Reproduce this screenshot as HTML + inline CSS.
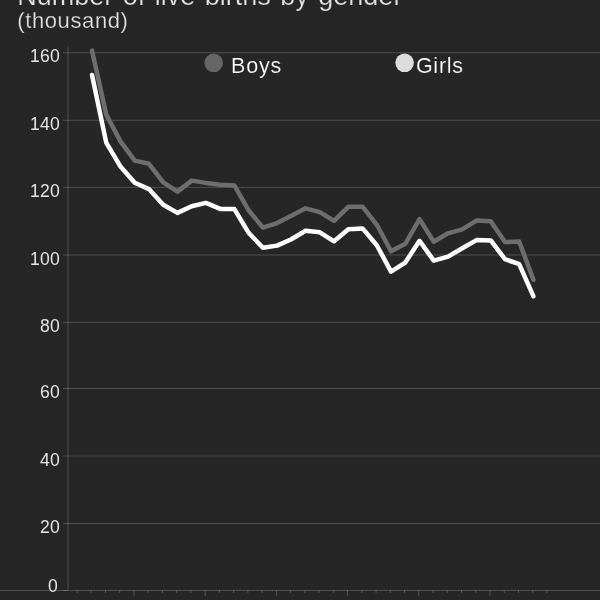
<!DOCTYPE html>
<html><head><meta charset="utf-8">
<style>
html,body{margin:0;padding:0;background:#262626;width:600px;height:600px;overflow:hidden}
svg{display:block;position:absolute;left:0;top:0;will-change:transform}
text{font-family:"Liberation Sans",sans-serif;stroke:#262626;stroke-width:0.25px}
.g{stroke:rgba(255,255,255,0.185);stroke-width:1}
.t{stroke:rgba(255,255,255,0.2);stroke-width:1}
.yl{fill:#e4e4e4;font-size:17.6px;letter-spacing:0.25px;text-anchor:end;stroke-width:0}
.ttl{fill:#e4e4e4;font-size:27px;word-spacing:2px}
.sub{fill:#e4e4e4;font-size:22px;letter-spacing:0.6px}
.lg{fill:#ffffff;font-size:21.5px;letter-spacing:0.75px;stroke-width:0.15px}
</style></head>
<body>
<svg width="600" height="600" viewBox="0 0 600 600">
<rect width="600" height="600" fill="#262626"/>
<text x="17.2" y="5.3" class="ttl">Number of live births by gender</text>
<text x="17.3" y="28" class="sub">(thousand)</text>
<line x1="63" y1="523.50" x2="600" y2="523.50" class="g"/>
<line x1="63" y1="456.00" x2="600" y2="456.00" class="g"/>
<line x1="63" y1="388.50" x2="600" y2="388.50" class="g"/>
<line x1="63" y1="322.40" x2="600" y2="322.40" class="g"/>
<line x1="63" y1="255.00" x2="600" y2="255.00" class="g"/>
<line x1="63" y1="187.40" x2="600" y2="187.40" class="g"/>
<line x1="63" y1="120.30" x2="600" y2="120.30" class="g"/>
<line x1="63" y1="52.75" x2="600" y2="52.75" class="g"/>

<line x1="68" y1="46.6" x2="68" y2="590" class="g"/>
<line x1="0" y1="590.5" x2="600" y2="590.5" class="g"/>
<line x1="63" y1="590.5" x2="68" y2="590.5" class="g"/>
<line x1="77.00" y1="590" x2="77.00" y2="593" class="t"/>
<line x1="91.24" y1="590" x2="91.24" y2="593" class="t"/>
<line x1="105.48" y1="590" x2="105.48" y2="593" class="t"/>
<line x1="119.72" y1="590" x2="119.72" y2="593" class="t"/>
<line x1="133.96" y1="590" x2="133.96" y2="596" class="t"/>
<line x1="148.20" y1="590" x2="148.20" y2="593" class="t"/>
<line x1="162.44" y1="590" x2="162.44" y2="593" class="t"/>
<line x1="176.68" y1="590" x2="176.68" y2="593" class="t"/>
<line x1="190.92" y1="590" x2="190.92" y2="593" class="t"/>
<line x1="205.16" y1="590" x2="205.16" y2="596" class="t"/>
<line x1="219.40" y1="590" x2="219.40" y2="593" class="t"/>
<line x1="233.64" y1="590" x2="233.64" y2="593" class="t"/>
<line x1="247.88" y1="590" x2="247.88" y2="593" class="t"/>
<line x1="262.12" y1="590" x2="262.12" y2="593" class="t"/>
<line x1="276.36" y1="590" x2="276.36" y2="596" class="t"/>
<line x1="290.60" y1="590" x2="290.60" y2="593" class="t"/>
<line x1="304.84" y1="590" x2="304.84" y2="593" class="t"/>
<line x1="319.08" y1="590" x2="319.08" y2="593" class="t"/>
<line x1="333.32" y1="590" x2="333.32" y2="593" class="t"/>
<line x1="347.56" y1="590" x2="347.56" y2="596" class="t"/>
<line x1="361.80" y1="590" x2="361.80" y2="593" class="t"/>
<line x1="376.04" y1="590" x2="376.04" y2="593" class="t"/>
<line x1="390.28" y1="590" x2="390.28" y2="593" class="t"/>
<line x1="404.52" y1="590" x2="404.52" y2="593" class="t"/>
<line x1="418.76" y1="590" x2="418.76" y2="596" class="t"/>
<line x1="433.00" y1="590" x2="433.00" y2="593" class="t"/>
<line x1="447.24" y1="590" x2="447.24" y2="593" class="t"/>
<line x1="461.48" y1="590" x2="461.48" y2="593" class="t"/>
<line x1="475.72" y1="590" x2="475.72" y2="593" class="t"/>
<line x1="489.96" y1="590" x2="489.96" y2="596" class="t"/>
<line x1="504.20" y1="590" x2="504.20" y2="593" class="t"/>
<line x1="518.44" y1="590" x2="518.44" y2="593" class="t"/>
<line x1="532.68" y1="590" x2="532.68" y2="593" class="t"/>
<line x1="546.92" y1="590" x2="546.92" y2="593" class="t"/>

<text x="60.1" y="533.20" class="yl">20</text>
<text x="60.1" y="465.70" class="yl">40</text>
<text x="60.1" y="398.20" class="yl">60</text>
<text x="60.1" y="332.10" class="yl">80</text>
<text x="60.1" y="264.70" class="yl">100</text>
<text x="60.1" y="197.10" class="yl">120</text>
<text x="60.1" y="130.00" class="yl">140</text>
<text x="60.1" y="62.45" class="yl">160</text>
<text x="58.1" y="591.6" class="yl">0</text>

<circle cx="213.7" cy="62.8" r="9.3" fill="#666666"/>
<text x="231.1" y="72.8" class="lg">Boys</text>
<circle cx="404.6" cy="62.8" r="9.3" fill="#dcdcdc"/>
<text x="415.9" y="72.8" class="lg">Girls</text>
<polyline points="92.00,50.60 106.24,114.60 120.48,141.40 134.72,160.60 148.96,163.80 163.20,182.30 177.44,191.60 191.68,180.60 205.92,182.90 220.16,184.80 234.40,185.40 248.64,210.30 262.88,227.60 277.12,223.10 291.36,215.80 305.60,208.30 319.84,212.10 334.08,220.80 348.32,206.80 362.56,206.70 376.80,224.80 391.04,251.30 405.28,243.80 419.52,219.10 433.76,241.70 448.00,233.30 462.24,229.30 476.48,220.60 490.72,221.30 504.96,242.10 519.20,241.60 533.44,279.80" fill="none" stroke="#6e6e6e" stroke-width="4.5" stroke-linejoin="round" stroke-linecap="round"/>
<polyline points="92.00,75.00 106.24,142.60 120.48,166.60 134.72,182.80 148.96,189.10 163.20,204.80 177.44,212.90 191.68,206.20 205.92,202.90 220.16,208.90 234.40,209.10 248.64,232.80 262.88,247.80 277.12,245.60 291.36,239.30 305.60,230.80 319.84,232.30 334.08,241.30 348.32,229.30 362.56,228.40 376.80,245.30 391.04,271.60 405.28,262.60 419.52,240.80 433.76,260.60 448.00,256.60 462.24,248.30 476.48,240.10 490.72,240.40 504.96,259.20 519.20,264.10 533.44,296.30" fill="none" stroke="#ffffff" stroke-width="4.5" stroke-linejoin="round" stroke-linecap="round"/>
</svg>
</body></html>
